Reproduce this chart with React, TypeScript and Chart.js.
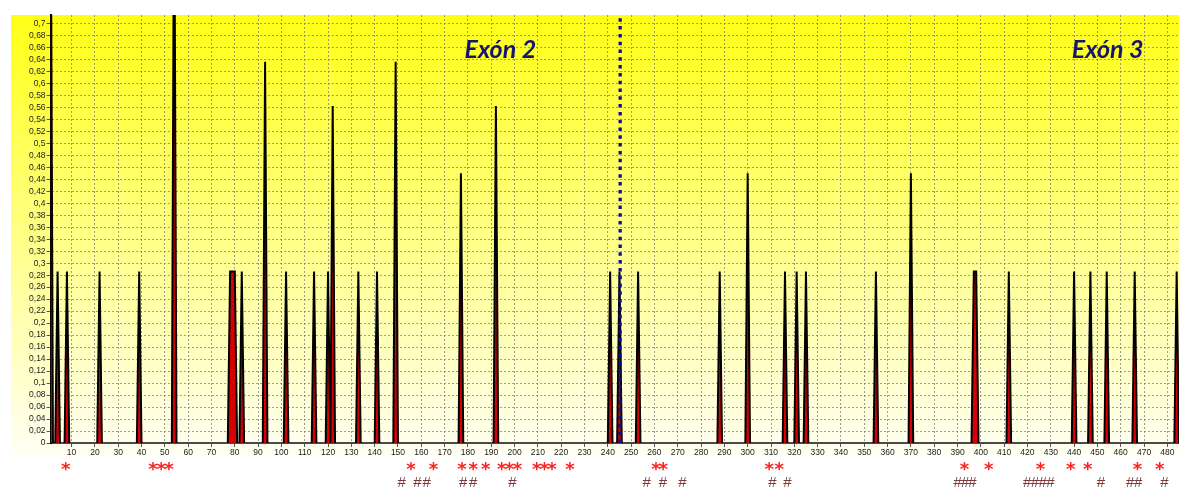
import { useEffect, useRef } from 'react';
import { Chart, registerables } from 'chart.js';

Chart.register(...registerables);

// ---- data ----
const xMin = 1;
const xMax = 485;
const yMax = 0.714;
const yStep = 0.02;
const xStep = 10;

const spikePositions = [1, 4, 8, 22, 39, 54, 78, 79, 80, 83, 93, 102, 114, 120, 122, 133, 141, 149, 177, 192, 241, 245, 253, 288, 300, 316, 321, 325, 355, 370, 397, 398, 412, 440, 447, 454, 466, 484];
const spikeHeights = [1.0, 0.286, 0.286, 0.286, 0.286, 1.0, 0.286, 0.286, 0.286, 0.286, 0.636, 0.286, 0.286, 0.286, 0.562, 0.286, 0.286, 0.636, 0.45, 0.562, 0.286, 0.286, 0.286, 0.286, 0.45, 0.286, 0.286, 0.286, 0.286, 0.45, 0.286, 0.286, 0.286, 0.286, 0.286, 0.286, 0.286, 0.286];

const boundaryX = 245.3;

const exonLabels = ['Exón 2', 'Exón 3'];
const exonLabelX = [193.9, 454.4];
const exonLabelY = 0.655;

const asteriskX = [7.5, 44.9, 48.4, 51.8, 155.6, 165.2, 177.4, 182.3, 187.6, 194.5, 197.8, 201.2, 209.5, 212.8, 216, 223.8, 260.7, 263.8, 309.2, 313.5, 393, 403.4, 425.6, 438.6, 445.8, 467.2, 476.7];
const hashX = [151.6, 158.3, 162.3, 178, 182.3, 199.1, 256.7, 263.6, 272, 310.6, 317, 390.1, 393.3, 396.4, 419.9, 423.2, 426.5, 429.8, 451.5, 464.1, 467.5, 478.8];

function buildSeries() {
  const pts: { x: number; y: number }[] = [];
  for (let x = xMin; x <= xMax; x++) {
    const i = spikePositions.indexOf(x);
    pts.push({ x, y: i >= 0 ? spikeHeights[i] : 0 });
  }
  return pts;
}

const fmtY = (v: number) => {
  const s = parseFloat(Number(v).toFixed(2)).toString();
  return s.replace('.', ',');
};

const backgroundPlugin = {
  id: 'bgGradient',
  beforeDraw(chart: any) {
    const { ctx, chartArea } = chart;
    const top = chartArea.top;
    const bottom = chartArea.bottom + 12;
    const left = chartArea.left - 39.6;
    const right = chart.width;
    const g = ctx.createLinearGradient(0, top, 0, bottom);
    g.addColorStop(0, 'rgb(255,255,22)');
    g.addColorStop(1, 'rgb(255,255,244)');
    ctx.save();
    ctx.fillStyle = g;
    ctx.fillRect(left, top, right - left, bottom - top);
    ctx.restore();
  },
};

const annotationPlugin = {
  id: 'annotations',
  afterDraw(chart: any) {
    const { ctx, chartArea } = chart;
    const xs = chart.scales.x;
    const ys = chart.scales.y;
    ctx.save();
    // exon labels
    ctx.fillStyle = '#16166e';
    ctx.font = 'italic bold 25px Lato, "Liberation Sans", sans-serif';
    ctx.textAlign = 'center';
    ctx.textBaseline = 'middle';
    exonLabels.forEach((t, i) => {
      ctx.fillText(t, xs.getPixelForValue(exonLabelX[i]), ys.getPixelForValue(exonLabelY));
    });
    // asterisks
    ctx.fillStyle = '#ff2020';
    ctx.font = 'bold 18px "DejaVu Sans", sans-serif';
    ctx.textBaseline = 'alphabetic';
    asteriskX.forEach((x) => {
      ctx.fillText('*', xs.getPixelForValue(x), chartArea.bottom + 32);
    });
    // hashes
    ctx.fillStyle = '#7a3a3a';
    ctx.font = '15px "Liberation Sans", Arial, sans-serif';
    hashX.forEach((x) => {
      ctx.fillText('#', xs.getPixelForValue(x), chartArea.bottom + 44);
    });
    ctx.restore();
  },
};

export default function App() {
  const ref = useRef<HTMLCanvasElement | null>(null);

  useEffect(() => {
    document.body.style.margin = '0';
    const canvas = ref.current;
    if (!canvas) return;
    const chart = new Chart(canvas, {
      type: 'line',
      data: {
        datasets: [
          {
            label: 'boundary',
            data: [
              { x: boundaryX, y: 0 },
              { x: boundaryX, y: yMax },
            ],
            borderColor: '#0c0c96',
            borderWidth: 3.3,
            borderDash: [3.5, 4.3],
            pointRadius: 0,
            fill: false,
            order: 0,
          },
          {
            label: 'spikes',
            data: buildSeries(),
            borderColor: '#000000',
            borderWidth: 2,
            backgroundColor: '#d80000',
            fill: 'origin',
            pointRadius: 0,
            tension: 0,
            order: 1,
            segment: {
              borderColor: (c: any) =>
                c.p0.parsed.y === 0 && c.p1.parsed.y === 0 ? 'rgba(0,0,0,0)' : undefined,
            },
          } as any,
        ],
      },
      options: {
        animation: false,
        responsive: false,
        maintainAspectRatio: false,
        layout: { padding: { top: 15, right: 0, bottom: 0, left: 0 } },
        plugins: { legend: { display: false }, tooltip: { enabled: false } },
        scales: {
          x: {
            type: 'linear',
            min: xMin,
            max: xMax,
            afterFit: (s: any) => {
              s.height = 44;
            },
            ticks: {
              stepSize: xStep,
              includeBounds: false,
              autoSkip: false,
              maxRotation: 0,
              color: '#222',
              padding: 1,
              font: { size: 8.5, family: '"Liberation Sans", Arial, sans-serif' },
              callback: (v: any) => String(v),
            },
            grid: {
              color: 'rgba(120,120,110,0.7)',
              lineWidth: 1,
              tickLength: 4,
              tickColor: '#555',
            },
            border: { color: '#4a4a4a', width: 2, dash: [2, 2] },
          },
          y: {
            type: 'linear',
            min: 0,
            max: yMax,
            afterFit: (s: any) => {
              s.width = 50.6;
            },
            ticks: {
              stepSize: yStep,
              includeBounds: false,
              autoSkip: false,
              color: '#222',
              padding: 1,
              font: { size: 8.5, family: '"Liberation Sans", Arial, sans-serif' },
              callback: (v: any) => fmtY(v),
            },
            grid: {
              color: 'rgba(120,120,110,0.7)',
              lineWidth: 1,
              tickLength: 4,
              tickColor: '#555',
            },
            border: { color: '#000', width: 2, dash: [2, 2] },
          },
        },
      },
      plugins: [backgroundPlugin, annotationPlugin],
    });
    return () => chart.destroy();
  }, []);

  return (
    <div style={{ width: 1179, height: 487 }}>
      <canvas ref={ref} width={1179} height={487} style={{ display: 'block', width: 1179, height: 487 }} />
    </div>
  );
}
